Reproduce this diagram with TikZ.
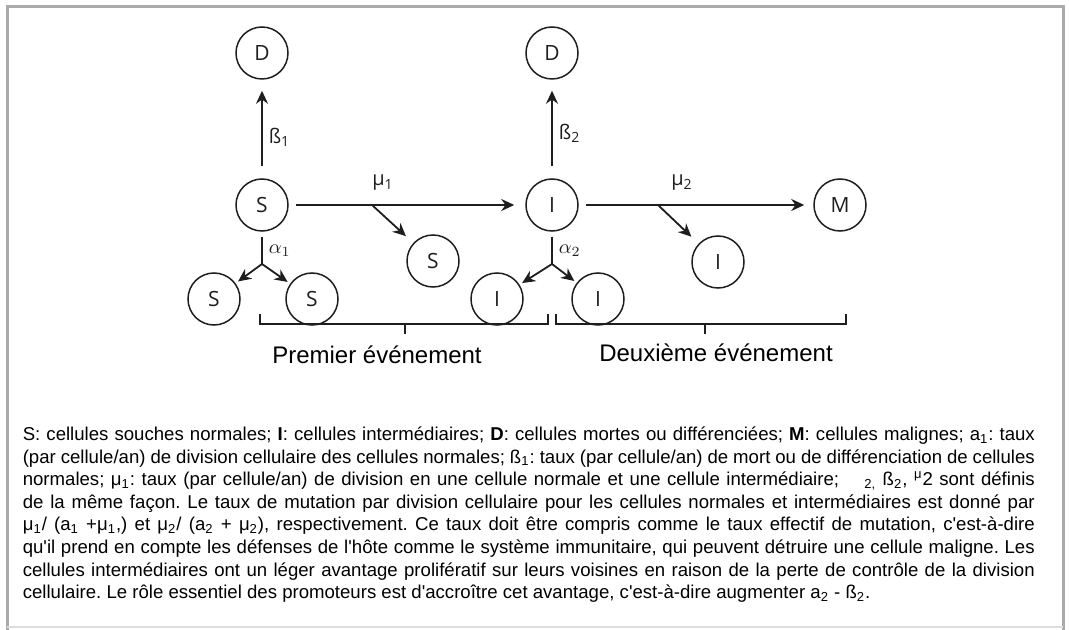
\documentclass[tikz,border=0pt]{standalone}
\usepackage{fontspec}
\setmainfont{Liberation Sans}[Ligatures=TeXOff]
\newfontfamily\diagfont{Open Sans}
\usetikzlibrary{arrows.meta}
\definecolor{cframe}{HTML}{ABABAB}
\definecolor{cink}{HTML}{1E1E1E}
\tikzset{
  every picture/.style={line width=0.8pt},
  cell/.style={circle, draw=cink, line width=0.75pt, minimum size=26pt, inner sep=0pt, text=cink, font=\diagfont\fontsize{10.5}{10.5}\selectfont},
  arrow/.style={-{Stealth[length=6.5pt, width=6pt]}, draw=cink, line width=0.9pt},
  rate/.style={font=\diagfont\fontsize{10}{10}\selectfont, text=cink, inner sep=1pt},
  bracket/.style={draw=cink, line width=0.8pt},
  event/.style={font=\fontsize{12}{14}\selectfont},
  legend/.style={font=\fontsize{9.3}{11.3}\selectfont, text width=506pt, align=justify, inner sep=0pt},
}

\begin{document}
\frenchspacing
\begin{tikzpicture}[x=0.5pt, y=-0.5pt]
  \useasboundingbox (0,0) rectangle (1069,630);
  \draw[cframe, line width=1.5pt] (7,630) -- (7,7) -- (1063,7) -- (1063,630);
  \draw[cframe!40, line width=1pt] (7,627) -- (1063,627);
  % first event: S -> I
  \node[cell] (D1) at (262,53) {D};
  \node[cell] (S) at (262,205) {S};
  \node[cell] (S0) at (433,261) {S};
  \node[cell] (Sa) at (214,299) {S};
  \node[cell] (Sb) at (312,299) {S};
  % second event: I -> M
  \node[cell] (D2) at (552,53) {D};
  \node[cell] (I) at (552,205) {I};
  \node[cell] (I0) at (718,262) {I};
  \node[cell] (Ia) at (497,299) {I};
  \node[cell] (Ib) at (598,299) {I};
  \node[cell] (M) at (840,205) {M};
  \coordinate (mu1) at (372,205);
  \coordinate (mu2) at (658,205);
  \coordinate (al1) at (262,264);
  \coordinate (al2) at (552,264);
  \draw[arrow, shorten <=6pt, shorten >=5.5pt] (S) -- (D1);
  \draw[arrow, shorten <=3.5pt, shorten >=5.5pt] (S) -- (I);
  \draw[arrow, shorten >=5pt] (mu1) -- (S0);
  \draw[cink, line width=0.9pt, shorten <=2.5pt] (S) -- (al1);
  \draw[arrow, shorten >=1.5pt] (al1) -- (Sa);
  \draw[arrow, shorten >=1.5pt] (al1) -- (Sb);
  \draw[arrow, shorten <=6pt, shorten >=5.5pt] (I) -- (D2);
  \draw[arrow, shorten <=3.5pt, shorten >=4.5pt] (I) -- (M);
  \draw[arrow, shorten >=5pt] (mu2) -- (I0);
  \draw[cink, line width=0.9pt, shorten <=2.5pt] (I) -- (al2);
  \draw[arrow, shorten >=1.5pt] (al2) -- (Ia);
  \draw[arrow, shorten >=1.5pt] (al2) -- (Ib);
  \node[rate, anchor=west] (b1) at (266,137) {ß\textsubscript{1}};
  \node[rate] (m1) at (383,183) {μ\textsubscript{1}};
  \node[rate, anchor=west] (a1) at (266,251) {$\alpha_1$};
  \node[rate, anchor=west] (b2) at (556,133) {ß\textsubscript{2}};
  \node[rate] (m2) at (682,183) {μ\textsubscript{2}};
  \node[rate, anchor=west] (a2) at (556,251) {$\alpha_2$};
  % brackets
  \draw[bracket] (260,314) -- (260,324) -- (548,324) -- (548,314);
  \draw[bracket] (405,324) -- (405,334);
  \draw[bracket] (556,314) -- (556,324) -- (846,324) -- (846,314);
  \draw[bracket] (705,324) -- (705,334);
  \node[event] (ev1) at (377,355) {Premier événement};
  \node[event] (ev2) at (716,353) {Deuxième événement};
  \node[legend, anchor=north west] (leg) at (22,426) {S: cellules souches normales; \textbf{I}: cellules intermédiaires; \textbf{D}: cellules mortes ou différenciées; \textbf{M}: cellules malignes; a\textsubscript{1}: taux\linebreak
(par cellule/an) de division cellulaire des cellules normales; ß\textsubscript{1}: taux (par cellule/an) de mort ou de différenciation de cellules\linebreak
normales; μ\textsubscript{1}: taux (par cellule/an) de division en une cellule normale et une cellule intermédiaire; \quad\textsubscript{2,} ß\textsubscript{2}, \textsuperscript{μ}2 sont définis\linebreak
de la même façon. Le taux de mutation par division cellulaire pour les cellules normales et intermédiaires est donné par\linebreak
μ\textsubscript{1}/ (a\textsubscript{1} +μ\textsubscript{1},) et μ\textsubscript{2}/ (a\textsubscript{2} + μ\textsubscript{2}), respectivement. Ce taux doit être compris comme le taux effectif de mutation, c'est-à-dire\linebreak
qu'il prend en compte les défenses de l'hôte comme le système immunitaire, qui peuvent détruire une cellule maligne. Les\linebreak
cellules intermédiaires ont un léger avantage prolifératif sur leurs voisines en raison de la perte de contrôle de la division\linebreak
cellulaire. Le rôle essentiel des promoteurs est d'accroître cet avantage, c'est-à-dire augmenter a\textsubscript{2} - ß\textsubscript{2}.};
\end{tikzpicture}
\end{document}
